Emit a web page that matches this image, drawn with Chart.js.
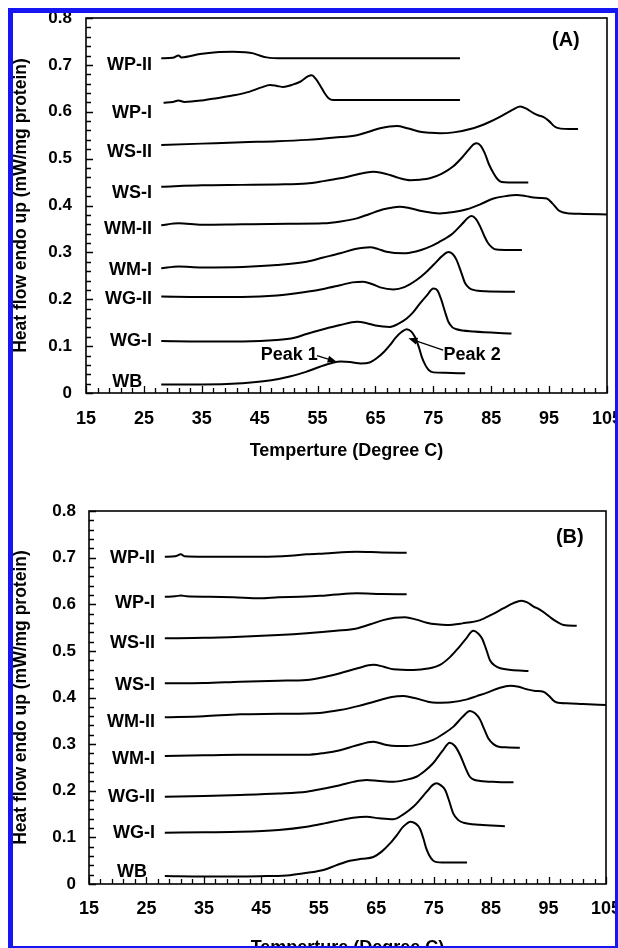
<!DOCTYPE html>
<html>
<head>
<meta charset="utf-8">
<script src="https://cdn.jsdelivr.net/npm/chart.js@4.4.0/dist/chart.umd.min.js"></script>
<style>
  html, body { margin: 0; padding: 0; background: #fff; overflow: hidden; width: 618px; height: 948px; }
  canvas { position: absolute; left: 0; }
  #chartA { top: 0; }
  #chartB { top: 470px; }
  #frame { position: absolute; left: 8px; top: 8px; width: 612px; height: 943px; box-sizing: border-box;
           border: 5px solid #1616f5; pointer-events: none; z-index: 5; }
</style>
</head>
<body>
<canvas id="chartA" width="640" height="470"></canvas>
<canvas id="chartB" width="640" height="490"></canvas>
<div id="frame"></div>
<script>
// DSC thermograms, panel (A) and (B): temperature (deg C) vs heat flow (mW/mg protein)

const seriesNames = ['WB', 'WG-I', 'WG-II', 'WM-I', 'WM-II', 'WS-I', 'WS-II', 'WP-I', 'WP-II'];
const xTicks = [15, 25, 35, 45, 55, 65, 75, 85, 95, 105];
const yTicks = [0, 0.1, 0.2, 0.3, 0.4, 0.5, 0.6, 0.7, 0.8];

// panel A curves, [temperature, heat flow]
const aWB = [[28,0.018],[35,0.018],[42,0.021],[47,0.027],[50.2,0.035],[53,0.045],[55.4,0.056],[57.5,0.064],[59,0.067],[60.6,0.066],[62.5,0.063],[64,0.065],[65.2,0.074],[66.5,0.088],[67.5,0.102],[68.5,0.118],[69.5,0.13],[70.4,0.136],[71.2,0.131],[71.8,0.12],[72.5,0.098],[73,0.077],[73.6,0.06],[74.2,0.049],[75,0.044],[77,0.043],[80.5,0.042]];
const aWG1 = [[28,0.111],[35,0.110],[42,0.110],[48,0.113],[51,0.118],[53.1,0.126],[56,0.136],[58.9,0.145],[61.8,0.152],[63.5,0.149],[65,0.144],[67.5,0.141],[69,0.148],[70.4,0.159],[71.5,0.172],[72.7,0.191],[74,0.21],[75,0.223],[75.7,0.219],[76.4,0.198],[77,0.174],[77.6,0.152],[78.3,0.14],[79,0.136],[82,0.131],[88.5,0.127]];
const aWG2 = [[28,0.206],[35,0.205],[42,0.205],[48,0.208],[53.1,0.216],[56,0.222],[58.9,0.23],[61,0.236],[62.9,0.2375],[64.5,0.232],[65.8,0.2254],[68.1,0.221],[70,0.226],[72.1,0.241],[73.5,0.255],[75,0.273],[76.5,0.292],[77.6,0.301],[78.3,0.297],[79,0.284],[79.8,0.258],[80.5,0.234],[81.2,0.224],[81.9,0.22],[84,0.217],[89.1,0.216]];
const aWM1 = [[28,0.266],[31,0.27],[35,0.268],[42,0.269],[48,0.273],[53.1,0.28],[56,0.289],[58.9,0.298],[61.5,0.307],[64.1,0.311],[65.5,0.307],[66.9,0.3015],[69.8,0.298],[72,0.302],[73.8,0.309],[76,0.322],[78.4,0.341],[80,0.361],[81,0.374],[81.6,0.3776],[82.3,0.372],[83.1,0.355],[83.8,0.335],[84.5,0.319],[85.2,0.31],[85.9,0.306],[88,0.305],[90.3,0.305]];
const aWM2 = [[28,0.358],[31,0.362],[35,0.359],[42,0.36],[50,0.361],[56,0.362],[59,0.366],[61.8,0.3726],[64,0.382],[66.4,0.392],[69.2,0.3975],[71,0.394],[72.7,0.389],[74.5,0.385],[76.1,0.383],[78.5,0.386],[80.8,0.392],[83,0.402],[85.4,0.415],[87.5,0.42],[89.4,0.4224],[91,0.42],[92.3,0.417],[93.5,0.416],[94.6,0.415],[95.6,0.404],[96.6,0.39],[97.5,0.385],[98.6,0.383],[101,0.382],[105,0.381]];
const aWS1 = [[28,0.44],[35,0.443],[42,0.444],[48,0.445],[53.1,0.447],[56,0.452],[58.9,0.458],[61.8,0.466],[64.6,0.472],[66,0.47],[67.5,0.465],[69,0.459],[71,0.454],[72.7,0.455],[74.4,0.458],[76.5,0.468],[78.4,0.483],[80,0.503],[81.3,0.522],[82,0.531],[82.5,0.533],[83.2,0.527],[83.9,0.511],[84.6,0.488],[85.4,0.469],[86.1,0.456],[86.8,0.45],[88,0.449],[91.4,0.449]];
const aWS2 = [[28,0.529],[35,0.532],[42,0.535],[48,0.537],[53.1,0.54],[58,0.545],[61.8,0.55],[64,0.558],[65.8,0.5647],[68.7,0.5696],[70.5,0.565],[72.7,0.5575],[74.5,0.555],[76.1,0.554],[78.5,0.556],[81.9,0.5647],[84.5,0.577],[86.5,0.589],[88.5,0.603],[90,0.611],[91,0.607],[92.3,0.597],[93.2,0.592],[94,0.589],[95,0.58],[96,0.568],[97,0.564],[98.5,0.563],[100,0.563]];
const aWP1 = [[28.4,0.619],[30,0.621],[31,0.624],[32,0.621],[35,0.624],[37.6,0.629],[40.5,0.635],[43.3,0.643],[45.3,0.652],[46.8,0.657],[48,0.655],[49.1,0.653],[50.5,0.657],[52,0.664],[53.4,0.676],[54,0.678],[54.7,0.67],[55.4,0.657],[56.2,0.64],[56.9,0.629],[57.7,0.625],[60,0.625],[70,0.625],[79.6,0.625]];
const aWP2 = [[28,0.714],[30,0.715],[31,0.72],[31.5,0.716],[34.7,0.723],[37.5,0.727],[40.4,0.728],[42.5,0.727],[43.9,0.7245],[45,0.72],[46.2,0.716],[49.1,0.714],[60,0.714],[70,0.714],[79.6,0.714]];

// panel B curves
const bWB = [[28.2,0.017],[35,0.016],[41.3,0.016],[46,0.017],[50,0.019],[53,0.024],[55.8,0.03],[58,0.04],[60.4,0.05],[62.5,0.054],[64.5,0.058],[66,0.07],[67.4,0.087],[68.6,0.105],[69.7,0.123],[71,0.1337],[71.8,0.13],[72.6,0.119],[73.2,0.098],[73.8,0.073],[74.5,0.056],[75.2,0.048],[77,0.046],[80.8,0.046]];
const bWG1 = [[28.2,0.11],[35,0.111],[41.3,0.112],[48,0.116],[52.9,0.123],[56,0.13],[58.7,0.137],[61,0.142],[63.3,0.144],[65.5,0.141],[68,0.139],[69.8,0.15],[71.5,0.166],[72.7,0.182],[73.8,0.198],[74.8,0.212],[75.5,0.216],[76.2,0.212],[77,0.2016],[77.7,0.178],[78.4,0.1516],[79.3,0.137],[80.2,0.1315],[83,0.127],[87.4,0.124]];
const bWG2 = [[28.2,0.187],[35,0.189],[41.3,0.191],[48,0.194],[52.9,0.198],[56,0.205],[58.7,0.212],[61,0.219],[63.3,0.223],[65.5,0.221],[68,0.2194],[70,0.223],[72,0.23],[73.5,0.243],[74.9,0.259],[76.5,0.285],[77.8,0.303],[78.7,0.296],[79.6,0.2767],[80.5,0.25],[81.3,0.23],[82.2,0.223],[83.1,0.221],[86,0.219],[88.9,0.218]];
const bWM1 = [[28.2,0.2745],[35,0.276],[41.3,0.277],[48,0.277],[52.9,0.277],[56,0.281],[58.7,0.287],[61.5,0.297],[64.5,0.305],[66.8,0.298],[68.5,0.296],[70.3,0.296],[72.6,0.3],[74.9,0.309],[76.7,0.322],[78.4,0.337],[80,0.358],[81.3,0.371],[82.2,0.366],[83.1,0.352],[83.8,0.332],[84.5,0.3125],[85.4,0.3],[86.3,0.2945],[88,0.293],[90,0.292]];
const bWM2 = [[28.2,0.3575],[35,0.36],[41.3,0.364],[48,0.365],[55.2,0.367],[58.7,0.373],[62,0.382],[65.7,0.3946],[67.7,0.401],[69.7,0.403],[71.2,0.4],[72.6,0.396],[74,0.391],[75.5,0.389],[78,0.39],[80.8,0.396],[82.5,0.403],[84.2,0.41],[86.3,0.42],[88.3,0.4254],[89.8,0.423],[91.2,0.4177],[92.7,0.414],[94.1,0.4125],[95.1,0.403],[96.1,0.391],[97.1,0.388],[98.2,0.3875],[101,0.386],[105,0.384]];
const bWS1 = [[28.2,0.4305],[35,0.431],[41.3,0.434],[48,0.436],[52.9,0.4375],[56,0.444],[58.7,0.452],[61.6,0.462],[64.5,0.47],[66.3,0.466],[68,0.4605],[71.5,0.459],[74,0.462],[76.1,0.47],[77.7,0.485],[79,0.502],[80.5,0.524],[81.9,0.543],[82.7,0.538],[83.4,0.527],[84.1,0.505],[84.8,0.48],[85.7,0.468],[86.6,0.4626],[88.5,0.459],[91.5,0.457]];
const bWS2 = [[28.2,0.527],[35,0.528],[41.3,0.5305],[48,0.534],[52.9,0.5377],[58,0.543],[61.6,0.548],[64,0.557],[66.2,0.566],[68.2,0.571],[70,0.572],[72,0.567],[73.8,0.5605],[75.5,0.557],[77.3,0.5555],[80,0.559],[83.1,0.566],[85,0.577],[87.1,0.591],[88.8,0.602],[90.3,0.6077],[91.3,0.604],[92.4,0.595],[93.4,0.589],[94.4,0.5806],[95.4,0.571],[96.4,0.5626],[97.6,0.5555],[99.9,0.554]];
const bWP1 = [[28.2,0.616],[30,0.617],[31,0.619],[32,0.617],[36,0.616],[40.1,0.615],[44.8,0.613],[48,0.615],[51.7,0.616],[55.2,0.618],[58,0.621],[61.6,0.6235],[66,0.622],[70.3,0.6214]];
const bWP2 = [[28.2,0.702],[30,0.703],[31,0.707],[31.6,0.703],[35,0.702],[40,0.702],[45,0.702],[50,0.704],[52.9,0.707],[56,0.709],[61.6,0.7127],[66,0.711],[70.3,0.7106]];

const curvesA = [aWB, aWG1, aWG2, aWM1, aWM2, aWS1, aWS2, aWP1, aWP2];
const curvesB = [bWB, bWG1, bWG2, bWM1, bWM2, bWS1, bWS2, bWP1, bWP2];

// where the sample names sit (right edge of text), in axis units
const labelSpotsA = [[24.7,0.0235],[26.4,0.111],[26.4,0.2005],[26.4,0.2624],[26.4,0.35],[26.4,0.4267],[26.4,0.514],[26.4,0.597],[26.4,0.6997]];
const labelSpotsB = [[25.1,0.0257],[26.5,0.1094],[26.5,0.1866],[26.5,0.268],[26.5,0.3475],[26.5,0.4268],[26.5,0.517],[26.5,0.6027],[26.5,0.699]];

const FONT = '"Liberation Sans", Arial, sans-serif';

function arrow(ctx, x0, y0, x1, y1) {
  const ang = Math.atan2(y1 - y0, x1 - x0);
  const len = 9, half = 3.5;
  ctx.beginPath();
  ctx.moveTo(x0, y0);
  ctx.lineTo(x1 - Math.cos(ang) * len * 0.8, y1 - Math.sin(ang) * len * 0.8);
  ctx.stroke();
  ctx.beginPath();
  ctx.moveTo(x1, y1);
  ctx.lineTo(x1 - Math.cos(ang) * len - Math.sin(ang) * half, y1 - Math.sin(ang) * len + Math.cos(ang) * half);
  ctx.lineTo(x1 - Math.cos(ang) * len + Math.sin(ang) * half, y1 - Math.sin(ang) * len - Math.cos(ang) * half);
  ctx.closePath();
  ctx.fill();
}

const decor = {
  id: 'decor',
  afterDraw(chart, args, opts) {
    const { ctx, chartArea: ca, scales: { x, y } } = chart;
    ctx.save();
    ctx.strokeStyle = '#000';
    ctx.fillStyle = '#000';
    ctx.lineWidth = 1.6;
    ctx.strokeRect(ca.left, ca.top, ca.right - ca.left, ca.bottom - ca.top);

    // inward ticks
    ctx.lineWidth = 1.3;
    ctx.beginPath();
    for (let i = 0; i <= 45; i++) {
      const px = Math.round(x.getPixelForValue(15 + i * 2)) + 0.5;
      const len = i % 5 === 0 ? 7 : 5;
      ctx.moveTo(px, ca.bottom);
      ctx.lineTo(px, ca.bottom - len);
    }
    for (let i = 0; i <= 40; i++) {
      const py = Math.round(y.getPixelForValue(i * 0.02)) + 0.5;
      const len = i % 5 === 0 ? 7 : 5;
      ctx.moveTo(ca.left, py);
      ctx.lineTo(ca.left + len, py);
    }
    ctx.stroke();

    // sample names
    ctx.font = 'bold 18px ' + FONT;
    ctx.textAlign = 'right';
    ctx.textBaseline = 'middle';
    opts.labels.forEach((p, i) => {
      ctx.fillText(seriesNames[i], x.getPixelForValue(p[0]), y.getPixelForValue(p[1]));
    });

    // panel letter
    ctx.font = 'bold 20px ' + FONT;
    ctx.textAlign = 'center';
    ctx.fillText(opts.panel[0], x.getPixelForValue(opts.panel[1]), y.getPixelForValue(opts.panel[2]));

    // peak call-outs
    ctx.font = 'bold 18px ' + FONT;
    ctx.lineWidth = 1.3;
    (opts.peaks || []).forEach(pk => {
      ctx.fillText(pk.text, x.getPixelForValue(pk.at[0]), y.getPixelForValue(pk.at[1]));
      arrow(ctx, x.getPixelForValue(pk.from[0]), y.getPixelForValue(pk.from[1]),
                 x.getPixelForValue(pk.to[0]), y.getPixelForValue(pk.to[1]));
    });
    ctx.restore();
  }
};

function makeChart(id, curves, geo, decorOpts) {
  const canvas = document.getElementById(id);
  return new Chart(canvas, {
    type: 'scatter',
    data: {
      datasets: curves.map((c, i) => ({
        label: seriesNames[i],
        data: c.map(p => ({ x: p[0], y: p[1] })),
        showLine: true,
        borderColor: '#000',
        borderWidth: 2,
        pointRadius: 0,
        cubicInterpolationMode: 'monotone'
      }))
    },
    options: {
      responsive: false,
      animation: false,
      layout: { padding: { left: 0, top: geo.top, right: canvas.width - geo.right, bottom: 0 } },
      plugins: { legend: { display: false }, tooltip: { enabled: false }, decor: decorOpts },
      scales: {
        x: {
          type: 'linear', min: 15, max: 105,
          afterBuildTicks: s => { s.ticks = xTicks.map(v => ({ value: v })); },
          afterFit: s => { s.height = canvas.height - geo.bottom; s.paddingLeft = 0; s.paddingRight = 0; },
          grid: { display: false, drawTicks: false },
          border: { display: false },
          ticks: { color: '#000', font: { family: FONT, size: 18, weight: 'bold' }, padding: geo.xPad, maxRotation: 0, autoSkip: false },
          title: { display: true, text: 'Temperture (Degree C)', color: '#000',
                   font: { family: FONT, size: 18, weight: 'bold' }, padding: { top: 0, bottom: geo.titleBottom } }
        },
        y: {
          type: 'linear', min: 0, max: 0.8,
          afterBuildTicks: s => { s.ticks = yTicks.map(v => ({ value: v })); },
          afterFit: s => { s.width = geo.left; s.paddingTop = 0; s.paddingBottom = 0; },
          grid: { display: false, drawTicks: false },
          border: { display: false },
          ticks: { color: '#000', font: { family: FONT, size: 17, weight: 'bold' }, padding: geo.yPad,
                   callback: v => (v === 0 ? '0' : v.toFixed(1)) },
          title: { display: true, text: 'Heat flow endo up (mW/mg protein)', color: '#000',
                   font: { family: FONT, size: 17.5, weight: 'bold' }, padding: { top: 11, bottom: 0 } }
        }
      }
    },
    plugins: [decor]
  });
}

makeChart('chartA', curvesA, { left: 86, right: 607, top: 18, bottom: 393, xPad: 15, yPad: 14, titleBottom: 8 }, {
  labels: labelSpotsA,
  panel: ['(A)', 97.9, 0.751],
  peaks: [
    { text: 'Peak 1', at: [50.1, 0.081], from: [54.9, 0.0796], to: [58.3, 0.0668] },
    { text: 'Peak 2', at: [81.7, 0.081], from: [76.7, 0.0917], to: [70.7, 0.1167] }
  ]
});

makeChart('chartB', curvesB, { left: 89, right: 606, top: 41, bottom: 414, xPad: 14, yPad: 13, titleBottom: 1 }, {
  labels: labelSpotsB,
  panel: ['(B)', 98.7, 0.744]
});
</script>
</body>
</html>
